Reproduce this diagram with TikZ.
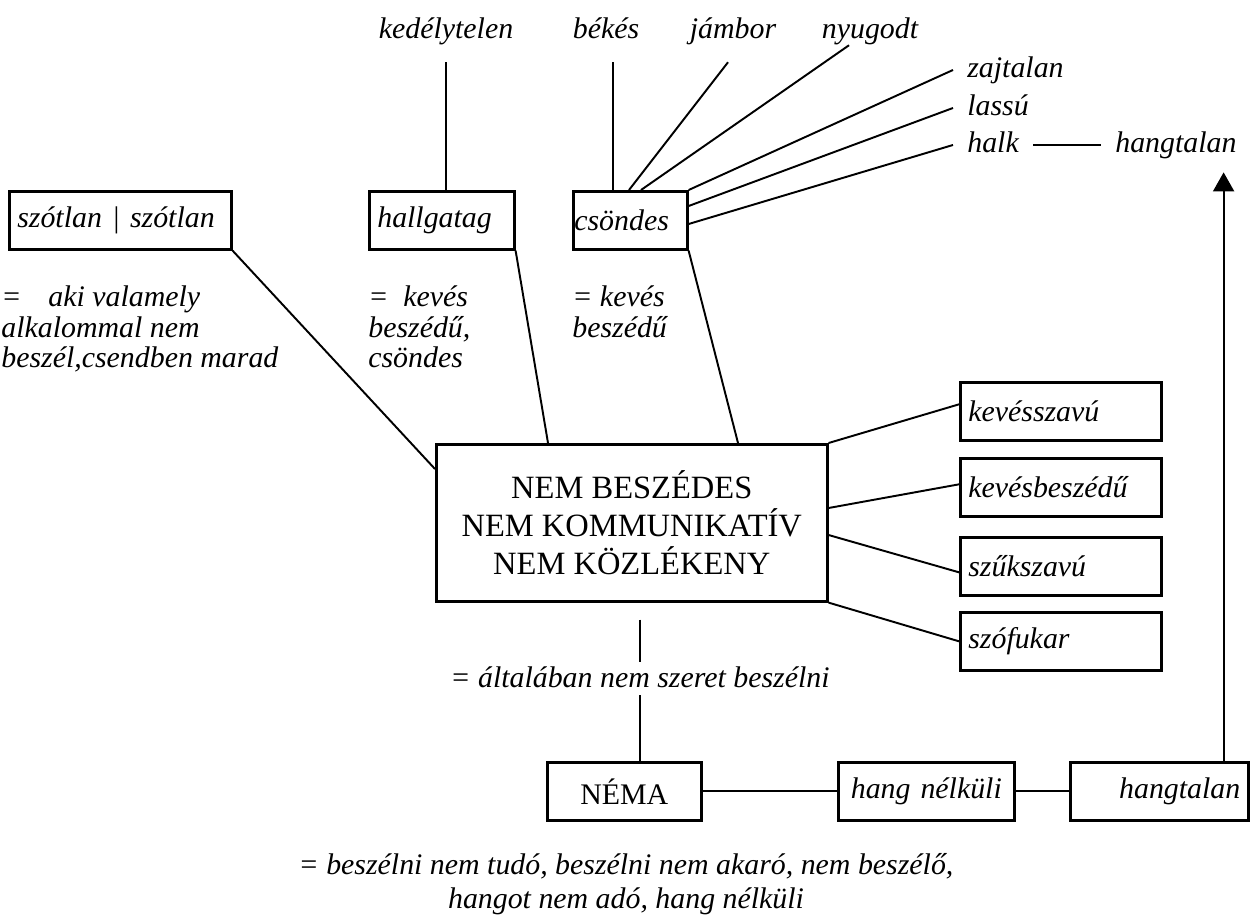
\documentclass[tikz,border=0pt]{standalone}
\usepackage{fontspec}
\setmainfont{Liberation Serif}
\usetikzlibrary{arrows.meta,calc}

\tikzset{
  box/.style={draw, line width=1.5pt, minimum height=1.16cm, inner xsep=0.16cm, inner ysep=0pt,
    font=\fontsize{17}{18}\selectfont\itshape, anchor=north west, align=left},
  word/.style={inner xsep=0.28cm, inner ysep=0pt, text height=12pt, text depth=4pt,
    font=\fontsize{17}{18}\selectfont\itshape, anchor=base west},
  topword/.style={word, text depth=13.6pt, anchor=base},
  note/.style={inner sep=0pt, align=left, anchor=north west, font=\fontsize{17}{17.6}\selectfont\itshape},
  link/.style={line width=1.1pt}
}

\begin{document}
\begin{tikzpicture}[x=0.02cm,y=-0.02cm]

\useasboundingbox (0,0) rectangle (1256,920);

% main box
\node[box, font=\fontsize{18.5}{21.8}\selectfont, align=center, minimum width=7.82cm, minimum height=3.14cm]
  (main) at (435,443) {NEM BESZÉDES\\NEM KOMMUNIKATÍV\\NEM KÖZLÉKENY};

% upper boxes
\node[box, text width=4.12cm] (szot) at (8,190) {szótlan | szótlan};
\node[box, text width=2.58cm] (hall) at (368,190) {hallgatag};
\node[box, inner xsep=0.02cm, text width=2.24cm] (csond) at (572,190) {csöndes};

\node[note] (note1) at (1,285) {=\hspace{0.9em}aki valamely\\alkalommal nem\\beszél,csendben marad};
\node[note] (note2) at (368,285) {=\hspace{0.5em}kevés\\beszédű,\\csöndes};
\node[note] (note3) at (572,285) {= kevés\\beszédű};

% words on top
\node[topword] (kedely) at (446,38) {kedélytelen};
\node[topword] (bekes) at (606,38) {békés};
\node[topword] (jambor) at (733,38) {jámbor};
\node[topword] (nyugodt) at (870,38) {nyugodt};
\node[word] (zajtalan) at (953,77) {zajtalan};
\node[word] (lassu) at (953,115) {lassú};
\node[word] (halk) at (953,152) {halk};
\node[word] (hangtop) at (1101,152) {hangtalan};

\draw[link] (kedely.south) -- (kedely.south |- hall.north);
\draw[link] ($(bekes.south)+(7,0)$) -- ($(csond.north west)+(41,0)$);
\draw[link] ($(jambor.south)+(-5,0)$) -- ($(csond.north west)+(57,0)$);
\draw[link] ($(nyugodt.south)+(-21,-17)$) -- ($(csond.north west)+(69,0)$);
\draw[link] (zajtalan.west) -- (csond.north east);
\draw[link] (lassu.west) -- ($(csond.north east)+(0,16)$);
\draw[link] (halk.west) -- ($(csond.north east)+(0,34)$);
\draw[link] (halk) -- (hangtop);

% into the main box
\draw[link] (szot.south east) -- ($(main.north west)+(0,26)$);
\draw[link] (hall.south east) -- ($(main.north west)+(113,0)$);
\draw[link] (csond.south east) -- ($(main.north west)+(303,0)$);

% right boxes
\foreach \nm/\txt/\y in {kevesszavu/kevésszavú/381, kevesbeszedu/kevésbeszédű/457,
  szukszavu/szűkszavú/536, szofukar/szófukar/611}
{
\node[box, text width=3.70cm] (\nm) at (959,\y) {\txt};
}

\draw[link] (main.north east) -- ($(kevesszavu.west)+(0,-7)$);
\draw[link] ($(main.north east)+(0,65)$) -- ($(kevesbeszedu.west)+(0,-3)$);
\draw[link] ($(main.north east)+(0,92)$) -- ($(szukszavu.west)+(0,6)$);
\draw[link] (main.south east) -- (szofukar.west);

% bottom row
\node[word, anchor=base, inner xsep=0pt, text height=14pt, text depth=4.5pt] (gen) at (640,687)
  {= általában nem szeret beszélni};

\node[box, font=\fontsize{17}{18}\selectfont, align=center, text width=2.76cm] (nema) at (546,761) {NÉMA};
\node[box, align=center, inner xsep=0.06cm, text width=3.40cm] (hnk) at (837,761) {hang nélküli};
\node[box, align=right, text width=3.24cm] (hbox) at (1069,761) {hangtalan};

\draw[link, shorten <=0.34cm] (gen.north |- main.south) -- (gen.north);
\draw[link] (gen.south) -- (gen.south |- nema.north);
\draw[link] (nema) -- (hnk);
\draw[link] (hnk) -- (hbox);

\coordinate (foot) at ($(hbox.north east)+(-26,0)$);
\draw[link, -{Triangle[length=0.38cm,width=0.42cm]}, shorten >=0.26cm] (foot) -- (foot |- hangtop.south);

\node[note, anchor=north, align=center, font=\fontsize{17}{19.5}\selectfont\itshape] (nemanote) at (626,853)
  {= beszélni nem tudó, beszélni nem akaró, nem beszélő,\\hangot nem adó, hang nélküli};

\end{tikzpicture}
\end{document}
